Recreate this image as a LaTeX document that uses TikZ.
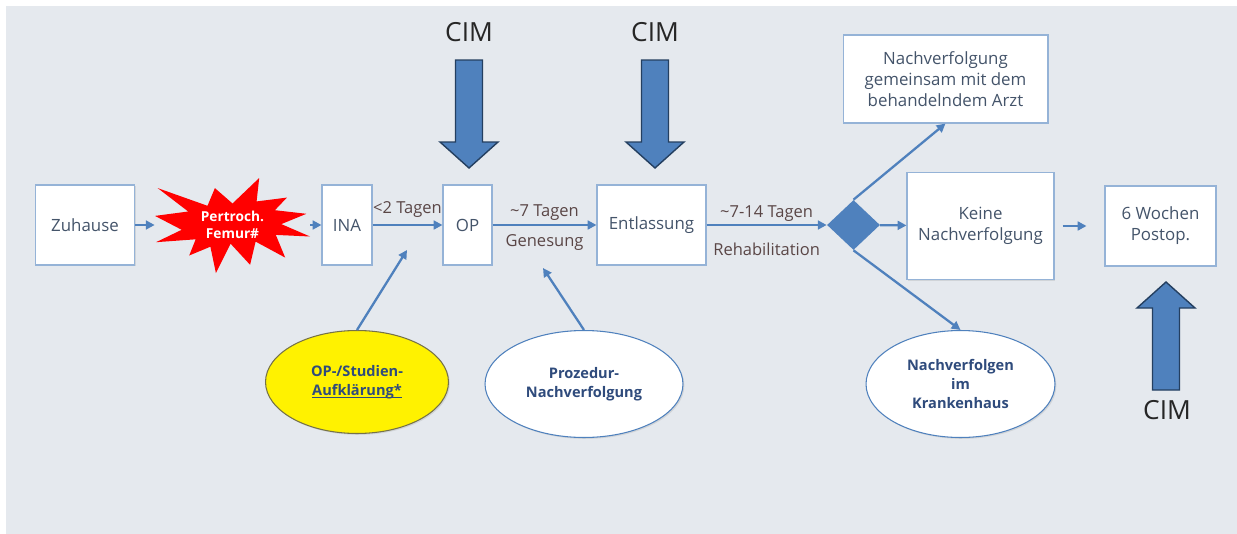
\documentclass[tikz,border=0pt]{standalone}
\usepackage{fontspec}
\setmainfont{Open Sans}
\usetikzlibrary{positioning,shapes.geometric,arrows.meta,shadows}

\definecolor{bggray}{HTML}{E5E9EE}
\definecolor{boxline}{HTML}{95B3D7}
\definecolor{boxtext}{HTML}{44546A}
\definecolor{flowblue}{HTML}{4F81BD}
\definecolor{ovaltext}{HTML}{2F4B7C}
\definecolor{labeltext}{HTML}{5A4646}
\definecolor{cimline}{HTML}{243F60}

\newcommand\nearul[1]{{\setbox0\hbox{#1}\rlap{\rule[-1.3pt]{\wd0}{0.5pt}}\box0}}

\tikzset{
  stepbox/.style={rectangle, draw=boxline, line width=0.6pt, fill=white, text=boxtext, align=center,
    font=\fontsize{9.6}{12}\selectfont, drop shadow={opacity=0.2,shadow xshift=0.8pt,shadow yshift=-0.8pt}},
  oval/.style={ellipse, draw=flowblue, line width=0.6pt, fill=white, text=ovaltext, align=center,
    font=\fontsize{8.3}{11}\selectfont\bfseries, drop shadow={opacity=0.2,shadow xshift=0.8pt,shadow yshift=-0.8pt}},
  flow/.style={draw=flowblue, line width=1.3pt, -{Triangle[length=5pt,width=5pt]}},
  lbl/.style={text=labeltext, font=\fontsize{9.4}{11}\selectfont, inner sep=1pt},
  cimtxt/.style={font=\fontsize{15}{18}\selectfont, text=black!85},
  cimdown/.pic={\draw[draw=cimline, fill=flowblue, line width=0.8pt] (-13.5,0) -- (13.5,0) -- (13.5,82) -- (29,82) -- (0,108) -- (-29,82) -- (-13.5,82) -- cycle;}
}

\begin{document}
\begin{tikzpicture}[x=0.02cm,y=-0.02cm]
	\useasboundingbox (0,0) rectangle (1237,534);
	\fill[white] (0,0) rectangle (1237,534);
	\fill[bggray] (6,6) rectangle (1237,534);

	% main row
	\node[stepbox, minimum width=1.98cm, minimum height=1.6cm] (zuh) at (85,225) {Zuhause};
	\fill[red] (232.5,203.5) -- (259.2,178) -- (256.6,201.4) -- (286.9,197.6) -- (274.9,210.2) -- (306.4,213.8)
		-- (281.3,224.1) -- (310,236.5) -- (275.8,234.9) -- (285.2,257.6) -- (255.6,241.6) -- (250.1,264.8)
		-- (230.6,243.7) -- (215.9,273) -- (210.4,246.7) -- (189.2,255.5) -- (195.7,239.3) -- (156,242.2)
		-- (181.7,229.8) -- (155,215.9) -- (188.2,211.5) -- (157.7,188.1) -- (207.5,205.8) -- (214.9,188.1) -- cycle;
	\node[minimum width=3.1cm, minimum height=1.8cm, text=white, align=center, font=\fontsize{7.8}{10}\selectfont\bfseries] (fx) at (232.5,225) {Pertroch.\\Femur\#};
	\node[stepbox, minimum width=1.0cm, minimum height=1.6cm] (ina) at (347,225) {INA};
	\node[stepbox, minimum width=0.98cm, minimum height=1.6cm] (op) at (467.5,225) {OP};
	\node[stepbox, minimum width=2.18cm, minimum height=1.6cm] (entl) at (651.5,225) {Entlassung};
	\node[diamond, fill=flowblue, minimum width=1.06cm, minimum height=1.0cm, inner sep=0pt] (dec) at (853.5,225) {};

	% branches
	\node[stepbox, minimum width=4.1cm, minimum height=1.76cm] (gem) at (945.5,79) {Nachverfolgung\\gemeinsam mit dem\\behandelndem Arzt};
	\node[stepbox, minimum width=2.94cm, minimum height=2.14cm] (keine) at (980.5,226) {Keine\\Nachverfolgung};
	\node[stepbox, minimum width=2.22cm, minimum height=1.6cm] (woch) at (1160.5,226) {6 Wochen\\Postop.};

	% ovals
	\node[oval, fill=yellow, draw=black!45!yellow!70!black, minimum width=3.66cm, minimum height=2.06cm] (aufkl) at (357,382) {OP-/Studien-\\\nearul{Aufklärung*}};
	\node[oval, minimum width=3.96cm, minimum height=2.14cm] (proz) at (584,384) {Prozedur-\\Nachverfolgung};
	\node[oval, minimum width=3.78cm, minimum height=2.14cm] (kh) at (960.5,384) {Nachverfolgen\\im\\Krankenhaus};

	\coordinate (tipA) at (407,250);
	\coordinate (tipB) at (543,268);

	% connectors
	\draw[flow] (zuh) -- (fx);
	\draw[flow] (fx) -- (ina);
	\draw[flow] (ina) -- (op) node[lbl, midway, above=2.5pt] {<2 Tagen};
	\draw[flow] (op) -- (entl) node[lbl, midway, above=1.2pt] {\textasciitilde7 Tagen} node[lbl, midway, below=4pt] {Genesung};
	\draw[flow] (entl) -- (dec) node[lbl, midway, above=0.5pt] {\textasciitilde7-14 Tagen} node[lbl, midway, below=8.5pt] {Rehabilitation};
	\draw[flow] (dec) -- (keine);
	\draw[flow] (dec.north) -- (gem.south);
	\draw[flow] (dec.south) -- (kh.north);
	\draw[flow, shorten <=0.16cm, shorten >=0.36cm] (keine) -- (woch);
	\draw[flow] (aufkl.north) -- (tipA);
	\draw[flow] (proz.north) -- (tipB);

	% CIM arrows
	\pic at (469,60) {cimdown};
	\pic at (655,60) {cimdown};
	\pic[rotate=180] at (1166,390) {cimdown};
	\node[cimtxt] (cimA) at (469,32) {CIM};
	\node[cimtxt] (cimB) at (655,32) {CIM};
	\node[cimtxt] (cimC) at (1167,410) {CIM};
\end{tikzpicture}
\end{document}
